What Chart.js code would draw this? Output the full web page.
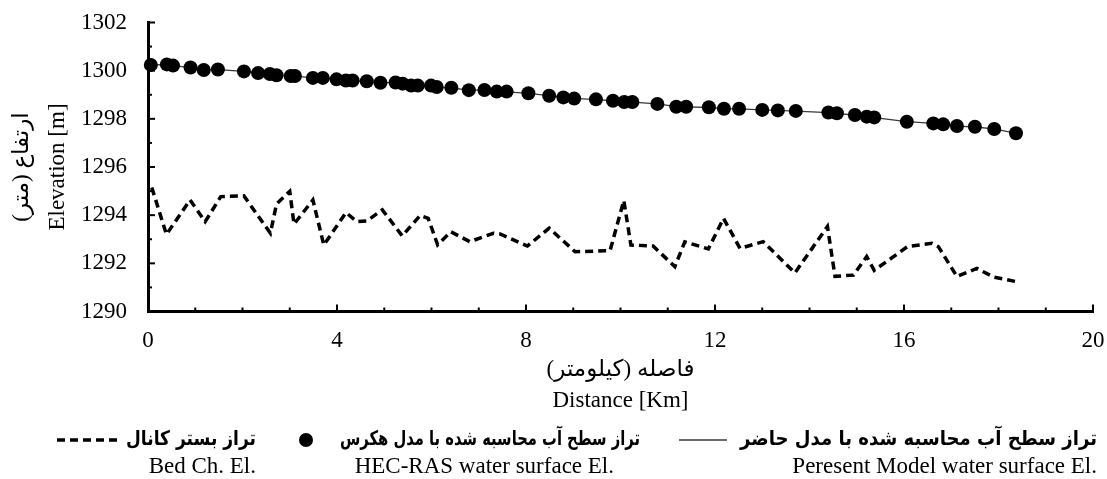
<!DOCTYPE html>
<html>
<head>
<meta charset="utf-8">
<script src="https://cdn.jsdelivr.net/npm/chart.js@4.4.1/dist/chart.umd.min.js"></script>
<style>
  html, body { margin: 0; padding: 0; background: #fff; }
  #wrap { width: 1107px; height: 479px; }
</style>
</head>
<body>
<div id="wrap"><canvas id="chart"></canvas></div>
<script>
// distances in km, elevations in m
const hecDistance = [0.06, 0.40, 0.53, 0.90, 1.18, 1.48, 2.03, 2.33, 2.58, 2.72, 3.02, 3.11, 3.49, 3.70, 3.99,
  4.19, 4.33, 4.63, 4.92, 5.24, 5.39, 5.57, 5.71, 5.99, 6.11, 6.42, 6.79, 7.12, 7.38, 7.59, 8.05, 8.49, 8.79,
  9.02, 9.48, 9.84, 10.08, 10.25, 10.78, 11.18, 11.39, 11.87, 12.19, 12.51, 13.00, 13.33, 13.71, 14.40, 14.58,
  14.96, 15.21, 15.37, 16.06, 16.62, 16.83, 17.12, 17.50, 17.91, 18.37];
const hecElevation = [1300.24, 1300.26, 1300.21, 1300.13, 1300.03, 1300.05, 1299.97, 1299.90, 1299.86, 1299.81,
  1299.78, 1299.78, 1299.70, 1299.70, 1299.64, 1299.59, 1299.59, 1299.56, 1299.50, 1299.51, 1299.46, 1299.38,
  1299.38, 1299.38, 1299.32, 1299.29, 1299.19, 1299.20, 1299.13, 1299.13, 1299.06, 1298.96, 1298.89, 1298.84,
  1298.81, 1298.75, 1298.70, 1298.70, 1298.62, 1298.50, 1298.50, 1298.48, 1298.42, 1298.42, 1298.37, 1298.35,
  1298.33, 1298.26, 1298.23, 1298.16, 1298.09, 1298.06, 1297.88, 1297.81, 1297.77, 1297.70, 1297.67, 1297.58,
  1297.40];

const modelDistance = hecDistance.slice();
const modelElevation = [1300.24, 1300.25, 1300.21, 1300.13, 1300.04, 1300.04, 1299.97, 1299.90, 1299.86, 1299.81,
  1299.78, 1299.77, 1299.70, 1299.69, 1299.64, 1299.60, 1299.58, 1299.55, 1299.50, 1299.50, 1299.45, 1299.39,
  1299.38, 1299.37, 1299.32, 1299.28, 1299.19, 1299.19, 1299.13, 1299.12, 1299.06, 1298.96, 1298.89, 1298.85,
  1298.80, 1298.75, 1298.70, 1298.69, 1298.62, 1298.51, 1298.50, 1298.47, 1298.42, 1298.41, 1298.37, 1298.35,
  1298.32, 1298.26, 1298.22, 1298.16, 1298.09, 1298.05, 1297.88, 1297.81, 1297.76, 1297.70, 1297.66, 1297.58,
  1297.40];

const bedDistance = [0.08, 0.39, 0.89, 1.21, 1.54, 2.03, 2.59, 2.72, 3.00, 3.09, 3.49, 3.72, 4.19, 4.42, 4.63,
  4.96, 5.38, 5.76, 5.93, 6.13, 6.41, 6.81, 7.31, 7.45, 8.03, 8.49, 9.04, 9.78, 10.07, 10.22, 10.69, 11.15,
  11.36, 11.86, 12.18, 12.53, 13.02, 13.69, 14.38, 14.54, 14.93, 15.21, 15.37, 16.08, 16.59, 16.73, 17.12,
  17.54, 17.90, 18.35];
const bedElevation = [1295.15, 1293.20, 1294.63, 1293.73, 1294.77, 1294.80, 1293.25, 1294.46, 1294.99, 1293.63,
  1294.63, 1292.76, 1294.11, 1293.73, 1293.76, 1294.22, 1293.14, 1293.99, 1293.87, 1292.77, 1293.31, 1292.90,
  1293.25, 1293.22, 1292.72, 1293.46, 1292.48, 1292.53, 1294.61, 1292.76, 1292.72, 1291.86, 1292.89, 1292.60,
  1293.87, 1292.62, 1292.90, 1291.60, 1293.53, 1291.46, 1291.51, 1292.28, 1291.71, 1292.70, 1292.83, 1292.69,
  1291.45, 1291.79, 1291.43, 1291.25];

const xTickValues = [0, 4, 8, 12, 16, 20];
const yTickValues = [1290, 1292, 1294, 1296, 1298, 1300, 1302];

const legendFa = ["تراز سطح آب محاسبه شده با مدل حاضر", "تراز سطح آب محاسبه شده با مدل هکرس", "تراز بستر کانال"];
const legendEn = ["Peresent Model water surface El.", "HEC-RAS water surface El.", "Bed Ch. El."];
const xTitle = ["فاصله (کیلومتر)\u200F", "Distance [Km]"];
const yTitle = ["ارتفاع (متر)\u200F", "Elevation [m]"];

const serif = "'Liberation Serif', 'Times New Roman', 'DejaVu Sans', serif";

function toPoints(xs, ys) {
  return xs.map((x, i) => ({x: x, y: ys[i]}));
}

// ticks drawn inward, majors and minors
const inwardTicks = {
  id: "inwardTicks",
  afterDraw(chart) {
    const {ctx, scales: {x, y}} = chart;
    const bottom = y.getPixelForValue(1290);
    const left = x.getPixelForValue(0);
    ctx.save();
    ctx.strokeStyle = "#000";
    ctx.lineWidth = 2;
    for (let v = 0; v <= 20; v++) {
      const px = x.getPixelForValue(v);
      const len = v % 4 === 0 ? 7 : 4;
      ctx.beginPath();
      ctx.moveTo(px, bottom);
      ctx.lineTo(px, bottom - len);
      ctx.stroke();
    }
    for (let v = 1290; v <= 1302; v++) {
      const py = y.getPixelForValue(v);
      const len = v % 2 === 0 ? 7 : 4;
      ctx.beginPath();
      ctx.moveTo(left, py);
      ctx.lineTo(left + len, py);
      ctx.stroke();
    }
    ctx.restore();
  }
};

// squeeze a label to a given width, right aligned
function fitText(ctx, text, right, y, width) {
  const w = ctx.measureText(text).width;
  ctx.save();
  ctx.translate(right, y);
  ctx.scale(width / w, 1);
  ctx.fillText(text, 0, 0);
  ctx.restore();
}

const bottomLegend = {
  id: "bottomLegend",
  afterDraw(chart) {
    const ctx = chart.ctx;
    const ds = chart.data.datasets;
    const rowFa = 440, rowEn = 467;
    const slots = [
      {faRight: 1097, faWidth: 357, enRight: 1097, marker: [679, 727]},
      {faRight: 640, faWidth: 300, enRight: 614, marker: [306, 306]},
      {faRight: 256, faWidth: 130, enRight: 256, marker: [57, 122]}
    ];
    ctx.save();
    ctx.textBaseline = "middle";
    ctx.textAlign = "right";
    ctx.fillStyle = "#000";
    slots.forEach((s, i) => {
      ctx.font = "bold 20px 'DejaVu Sans'";
      ctx.direction = "rtl";
      fitText(ctx, legendFa[i], s.faRight, rowFa, s.faWidth);
      ctx.direction = "ltr";
      ctx.font = "23px " + serif;
      ctx.fillText(legendEn[i], s.enRight, rowEn);

      const d = ds[i];
      ctx.beginPath();
      if (d.pointRadius > 0) {
        ctx.arc(s.marker[0], rowFa, d.pointRadius, 0, Math.PI * 2);
        ctx.fillStyle = d.pointBackgroundColor;
        ctx.fill();
        ctx.fillStyle = "#000";
      } else {
        ctx.setLineDash(d.borderDash || []);
        ctx.strokeStyle = d.borderColor;
        ctx.lineWidth = d.borderWidth;
        ctx.moveTo(s.marker[0], rowFa);
        ctx.lineTo(s.marker[1], rowFa);
        ctx.stroke();
        ctx.setLineDash([]);
      }
    });
    ctx.restore();
  }
};

new Chart(document.getElementById("chart"), {
  type: "scatter",
  data: {
    datasets: [
      {
        label: legendEn[0],
        data: toPoints(modelDistance, modelElevation),
        showLine: true,
        borderColor: "#3a3a3a",
        borderWidth: 1.3,
        pointRadius: 0,
        order: 2
      },
      {
        label: legendEn[1],
        data: toPoints(hecDistance, hecElevation),
        showLine: false,
        pointRadius: 7,
        pointBackgroundColor: "#000",
        pointBorderWidth: 0,
        borderColor: "#000",
        clip: false,
        order: 1
      },
      {
        label: legendEn[2],
        data: toPoints(bedDistance, bedElevation),
        showLine: true,
        borderColor: "#000",
        borderWidth: 3.5,
        borderDash: [8, 5],
        pointRadius: 0,
        order: 3
      }
    ]
  },
  options: {
    responsive: true,
    maintainAspectRatio: false,
    animation: false,
    layout: {padding: {top: 22.5, right: 14, bottom: 0, left: 0}},
    plugins: {
      legend: {display: false},
      tooltip: {enabled: false}
    },
    scales: {
      x: {
        type: "linear",
        min: 0,
        max: 20,
        afterBuildTicks: (scale) => { scale.ticks = xTickValues.map(v => ({value: v})); },
        afterFit: (scale) => {
          scale.height = 167.5;
          scale.paddingLeft = 0;
          scale.paddingRight = 0;
        },
        grid: {display: false, drawTicks: false},
        border: {display: true, color: "#000", width: 3},
        ticks: {
          padding: 16,
          color: "#000",
          maxRotation: 0,
          callback: (v) => String(v),
          font: {family: serif, size: 23}
        },
        title: {
          display: true,
          text: xTitle,
          color: "#000",
          font: {family: serif, size: 23, lineHeight: 1.348},
          padding: {top: 0, bottom: 62.5}
        }
      },
      y: {
        type: "linear",
        min: 1290,
        max: 1302,
        afterBuildTicks: (scale) => { scale.ticks = yTickValues.map(v => ({value: v})); },
        afterFit: (scale) => {
          scale.width = 148;
          scale.paddingTop = 0;
          scale.paddingBottom = 0;
        },
        grid: {display: false, drawTicks: false},
        border: {display: true, color: "#000", width: 3},
        ticks: {
          padding: 21,
          color: "#000",
          callback: (v) => String(v),
          font: {family: serif, size: 23}
        },
        title: {
          display: true,
          text: yTitle,
          color: "#000",
          font: {family: serif, size: 23, lineHeight: 1.565},
          padding: {top: 4, bottom: 0}
        }
      }
    }
  },
  plugins: [inwardTicks, bottomLegend]
});
</script>
</body>
</html>
